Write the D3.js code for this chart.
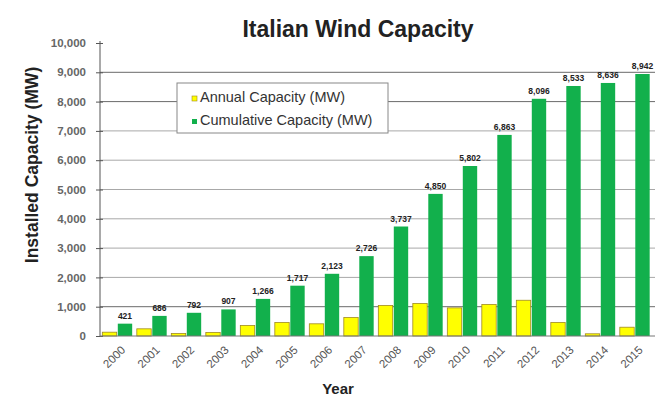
<!DOCTYPE html>
<html><head><meta charset="utf-8">
<script src="https://cdn.jsdelivr.net/npm/d3@7"></script>
<style>body{margin:0;background:#fff}svg{display:block}text{font-family:"Liberation Sans",Arial,sans-serif}</style>
</head><body><svg id="c" width="662" height="396"></svg>
<script>
const years = ["2000","2001","2002","2003","2004","2005","2006","2007","2008","2009","2010","2011","2012","2013","2014","2015"];
const annual = [130,245,85,120,358,460,416,630,1040,1110,960,1075,1220,460,75,300];
const cumulative = [421,686,792,907,1266,1717,2123,2726,3737,4850,5802,6863,8096,8533,8636,8942];
const cumLabels = ["421","686","792","907","1,266","1,717","2,123","2,726","3,737","4,850","5,802","6,863","8,096","8,533","8,636","8,942"];
const yTicks = [0,1000,2000,3000,4000,5000,6000,7000,8000,9000,10000];
const seriesNames = ["Annual Capacity (MW)","Cumulative Capacity (MW)"];

const svg = d3.select("#c");
const L=100,R=652,T=43,B=336;
const x = d3.scaleBand().domain(years).range([L,R]).paddingInner(0).paddingOuter(0);
const sub = d3.scaleBand().domain([0,1]).range([0,x.bandwidth()]).paddingInner(0.07).paddingOuter(0.15);
const y = d3.scaleLinear().domain([0,10000]).range([B,T]);

// gridlines
svg.append("g").selectAll("line").data(yTicks.slice(1,-1)).join("line")
  .attr("x1",L).attr("x2",655).attr("y1",d=>y(d)).attr("y2",d=>y(d))
  .attr("stroke",(d)=>[1000,8000,9000].includes(d)?"#6a6a6a":"#a8a8a8").attr("stroke-width",1);

// bars
const g = svg.append("g");
g.selectAll("rect.a").data(annual).join("rect").attr("class","a")
  .attr("x",(d,i)=>x(years[i])+sub(0)).attr("width",sub.bandwidth())
  .attr("y",d=>y(d)).attr("height",d=>B-y(d))
  .attr("fill","#ffff00").attr("stroke","#a08a20").attr("stroke-width",0.8);
g.selectAll("rect.c").data(cumulative).join("rect").attr("class","c")
  .attr("x",(d,i)=>x(years[i])+sub(1)).attr("width",sub.bandwidth())
  .attr("y",d=>y(d)).attr("height",d=>B-y(d))
  .attr("fill","#12b04c");
g.selectAll("text.v").data(cumulative).join("text").attr("class","v")
  .attr("x",(d,i)=>x(years[i])+sub(1)+sub.bandwidth()/2).attr("y",d=>y(d)-5)
  .attr("text-anchor","middle").attr("font-size",8.5).attr("font-weight","bold").attr("fill","#222")
  .text((d,i)=>cumLabels[i]);

// y axis
const ya = svg.append("g").attr("transform",`translate(${L},0)`)
  .call(d3.axisLeft(y).tickValues(yTicks).tickSize(4).tickPadding(10).tickFormat(d3.format(",")));
ya.select(".domain").attr("stroke","#555").attr("d",`M0,${B}V${T-2}`);
ya.selectAll(".tick line").attr("x2",3).attr("x1",-4).attr("stroke","#555");
ya.selectAll("text").attr("font-size",11.5).attr("font-weight","bold").attr("fill","#666").attr("font-family","Liberation Sans, Arial");

// x axis
const xa = svg.append("g").attr("transform",`translate(0,${B})`)
  .call(d3.axisBottom(x).tickSize(0).tickPadding(0));
xa.select(".domain").attr("stroke","#777").attr("d",`M${L},0H655`);
xa.selectAll(".tick text").attr("font-size",11.5).attr("fill","#555").attr("font-family","Liberation Sans, Arial")
  .attr("text-anchor","end").attr("transform","translate(3,9) rotate(-45)").attr("dy","0.7em");

// title & labels
svg.append("text").attr("x",358).attr("y",37).attr("text-anchor","middle").attr("font-size",23).attr("font-weight","bold").attr("fill","#222").text("Italian Wind Capacity");
svg.append("text").attr("transform","translate(38,165) rotate(-90)").attr("text-anchor","middle").attr("font-size",17.5).attr("font-weight","bold").attr("fill","#222").text("Installed Capacity (MW)");
svg.append("text").attr("x",338).attr("y",394).attr("text-anchor","middle").attr("font-size",15).attr("font-weight","bold").attr("fill","#222").text("Year");

// legend
const lg = svg.append("g");
lg.append("rect").attr("x",177).attr("y",83).attr("width",211).attr("height",50).attr("fill","#fff").attr("stroke","#888");
const lc = ["#ffff00","#12b04c"];
seriesNames.forEach((n,i)=>{
  lg.append("rect").attr("x",192).attr("y",96+i*23).attr("width",5).attr("height",5).attr("fill",lc[i]).attr("stroke",i?"none":"#a08a20").attr("stroke-width",0.6);
  lg.append("text").attr("x",200).attr("y",102+i*23).attr("font-size",14.5).attr("fill","#333").text(n);
});
</script></body></html>
